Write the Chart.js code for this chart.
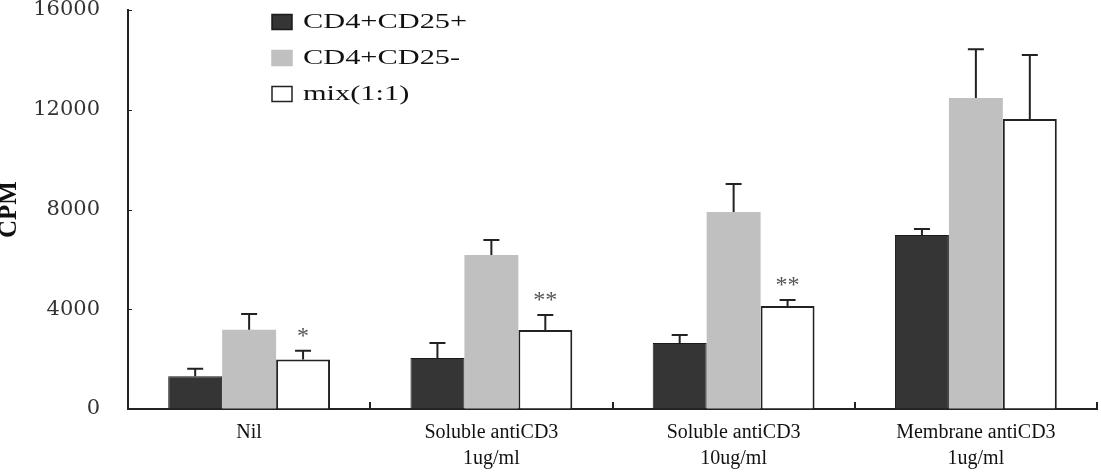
<!DOCTYPE html>
<html>
<head>
<meta charset="utf-8">
<script src="https://cdn.jsdelivr.net/npm/chart.js@4.4.1/dist/chart.umd.min.js"></script>
<style>
  html, body { margin: 0; padding: 0; background: #fff; }
</style>
</head>
<body>
<canvas id="cpmChart" width="1101" height="474"></canvas>
<script>
// groups along the x axis
const categories = ['Nil', ['Soluble antiCD3', '1ug/ml'], ['Soluble antiCD3', '10ug/ml'], ['Membrane antiCD3', '1ug/ml']];
const seriesNames = ['CD4+CD25+', 'CD4+CD25-', 'mix(1:1)'];

// mean CPM and error (upper bar only)
const cd25Pos = [1310, 2050, 2650, 6980];
const cd25PosErr = [300, 600, 320, 240];
const cd25Neg = [3180, 6175, 7900, 12470];
const cd25NegErr = [630, 600, 1120, 1960];
const mixCells = [1980, 3170, 4130, 11630];
const mixCellsErr = [360, 600, 240, 2570];
const mixSignif = ['*', '**', '**', ''];

const yTicks = [0, 4000, 8000, 12000, 16000];

// error bars + significance stars
const errorBars = {
    id: 'errorBars',
    afterDatasetsDraw(chart) {
        const ctx = chart.ctx;
        const yScale = chart.scales.y;
        ctx.save();
        ctx.strokeStyle = '#222';
        ctx.lineWidth = 2;
        chart.data.datasets.forEach((ds, i) => {
            const meta = chart.getDatasetMeta(i);
            meta.data.forEach((bar, j) => {
                const top = yScale.getPixelForValue(ds.data[j] + ds.errors[j]);
                ctx.beginPath();
                ctx.moveTo(bar.x, bar.y);
                ctx.lineTo(bar.x, top);
                ctx.moveTo(bar.x - 8, top);
                ctx.lineTo(bar.x + 8, top);
                ctx.stroke();
                if (ds.signif && ds.signif[j]) {
                    ctx.fillStyle = '#555';
                    ctx.font = '24px "Liberation Serif"';
                    ctx.textAlign = 'center';
                    ctx.textBaseline = 'middle';
                    ctx.fillText(ds.signif[j], bar.x, top - 14);
                }
            });
        });
        // short inward ticks on the y axis
        ctx.lineWidth = 1;
        yScale.ticks.forEach(t => {
            const py = Math.round(yScale.getPixelForValue(t.value)) + 0.5;
            ctx.beginPath();
            ctx.moveTo(chart.chartArea.left, py);
            ctx.lineTo(chart.chartArea.left + 4, py);
            ctx.stroke();
        });
        ctx.restore();
    },
};

// vertical legend inside the plot, top left
const boxLegend = {
    id: 'boxLegend',
    afterDraw(chart) {
        const ctx = chart.ctx;
        const left = chart.chartArea.left + 144;
        ctx.save();
        chart.data.datasets.forEach((ds, i) => {
            const cy = 22 + i * 36;
            ctx.fillStyle = ds.backgroundColor;
            ctx.fillRect(left, cy - 7.5, 20, 15);
            ctx.strokeStyle = ds.legendBorder;
            ctx.lineWidth = 1.5;
            ctx.strokeRect(left, cy - 7.5, 20, 15);
            ctx.save();
            ctx.translate(left + 31, cy);
            ctx.scale(1.38, 1);
            ctx.fillStyle = '#111';
            ctx.font = '22px "Liberation Serif"';
            ctx.textBaseline = 'middle';
            ctx.fillText(ds.label, 0, 0);
            ctx.restore();
        });
        ctx.restore();
    },
};

new Chart(document.getElementById('cpmChart'), {
    type: 'bar',
    data: {
        labels: categories,
        datasets: [
            {
                label: seriesNames[0],
                data: cd25Pos,
                errors: cd25PosErr,
                backgroundColor: '#353535',
                borderColor: '#1a1a1a',
                legendBorder: '#1a1a1a',
                borderWidth: 1,
            },
            {
                label: seriesNames[1],
                data: cd25Neg,
                errors: cd25NegErr,
                backgroundColor: '#c0c0c0',
                borderColor: '#c0c0c0',
                legendBorder: '#c0c0c0',
                borderWidth: 0,
            },
            {
                label: seriesNames[2],
                data: mixCells,
                errors: mixCellsErr,
                signif: mixSignif,
                backgroundColor: '#ffffff',
                borderColor: '#222',
                legendBorder: '#222',
                borderWidth: 2,
            },
        ],
    },
    options: {
        responsive: false,
        animation: false,
        layout: { padding: { top: 10, right: 4, left: 0, bottom: 0 } },
        datasets: {
            bar: { categoryPercentage: 0.668, barPercentage: 1.0 },
        },
        plugins: {
            legend: { display: false },
            tooltip: { enabled: false },
        },
        scales: {
            x: {
                afterFit: (scale) => { scale.height = 65; },
                grid: {
                    display: true,
                    offset: true,
                    drawOnChartArea: false,
                    drawTicks: true,
                    tickLength: -7,
                    color: '#222',
                    lineWidth: 2,
                },
                border: { display: true, color: '#222', width: 2 },
                ticks: {
                    padding: 18,
                    color: '#111',
                    maxRotation: 0,
                    font: { family: 'Liberation Serif', size: 20, lineHeight: 1.3 },
                },
            },
            y: {
                min: 0,
                max: 16000,
                afterFit: (scale) => { scale.width = 128; },
                afterBuildTicks: (scale) => { scale.ticks = yTicks.map(v => ({ value: v })); },
                grid: {
                    display: true,
                    drawOnChartArea: false,
                    drawTicks: true,
                    tickLength: 28,
                    color: 'rgba(0,0,0,0)',
                },
                border: { display: true, color: '#222', width: 2 },
                ticks: {
                    padding: 0,
                    color: '#333',
                    callback: (v) => String(v),
                    font: { family: 'DejaVu Serif', size: 21, lineHeight: 0.9 },
                },
                title: {
                    display: true,
                    text: 'CPM',
                    color: '#111',
                    padding: 0,
                    font: { family: 'Liberation Serif', size: 25, weight: 'bold', lineHeight: 0.8 },
                },
            },
        },
    },
    plugins: [errorBars, boxLegend],
});
</script>
</body>
</html>
